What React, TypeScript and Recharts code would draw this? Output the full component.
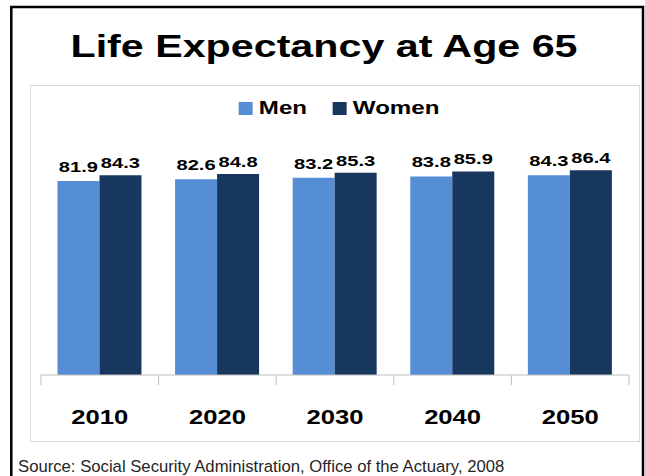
import { Bar, BarChart, LabelList, Legend, XAxis, YAxis } from 'recharts'

const years = ['2010', '2020', '2030', '2040', '2050']
const men = [81.9, 82.6, 83.2, 83.8, 84.3]
const women = [84.3, 84.8, 85.3, 85.9, 86.4]

const MEN_COLOR = '#558ed5'
const WOMEN_COLOR = '#17375e'
const FONT = '"Liberation Sans", Arial, Helvetica, sans-serif'
const TICK_SIZE = 10
const TICK_MARGIN = 21

const data = years.map((year, i) => ({ year, men: men[i], women: women[i] }))

// the source picture is stretched sideways, so text gets a horizontal scale
function YearTick(props: any) {
  const { x, y, payload, index } = props
  const half = payload.offset ?? 0
  const top = y - TICK_MARGIN - TICK_SIZE
  const bottom = y - TICK_MARGIN
  return (
    <g>
      <line x1={x - half} x2={x - half} y1={top} y2={bottom} stroke="#bfbfbf" />
      {index === years.length - 1 && (
        <line x1={x + half} x2={x + half} y1={top} y2={bottom} stroke="#bfbfbf" />
      )}
      <text
        transform={`translate(${x} ${y + 18}) scale(1.22 1)`}
        textAnchor="middle"
        fontFamily={FONT}
        fontWeight="bold"
        fontSize={21}
        fill="#000"
      >
        {payload.value}
      </text>
    </g>
  )
}

function valueLabel(gap: number) {
  return (props: any) => {
    const { x, y, width, value } = props
    return (
      <text
        transform={`translate(${x + width / 2} ${y - gap}) scale(1.3 1)`}
        textAnchor="middle"
        fontFamily={FONT}
        fontWeight="bold"
        fontSize={15.5}
        fill="#000"
      >
        {value}
      </text>
    )
  }
}

function LegendBox(props: any) {
  const items = props.payload ?? []
  return (
    <div
      style={{
        display: 'flex',
        justifyContent: 'center',
        alignItems: 'center',
        transform: 'scaleX(1.27)',
        fontFamily: FONT,
        fontWeight: 'bold',
        fontSize: 19,
        lineHeight: '22px',
      }}
    >
      {items.map((item: any, i: number) => (
        <div
          key={item.value}
          style={{ display: 'flex', alignItems: 'center', marginLeft: i === 0 ? 0 : 20 }}
        >
          <span
            style={{ width: 11, height: 13, background: item.color, marginRight: 5, display: 'inline-block' }}
          />
          <span>{item.value}</span>
        </div>
      ))}
    </div>
  )
}

export default function App() {
  return (
    <div style={{ position: 'relative', width: 645, height: 476, overflow: 'hidden', background: '#fff' }}>
      <style>{'body { margin: 0; }'}</style>
      <div
        style={{
          position: 'absolute',
          left: 30,
          top: 85,
          width: 610,
          height: 357,
          border: '1px solid #d9d9d9',
          boxSizing: 'border-box',
        }}
      />
      <div style={{ position: 'absolute', left: 0, top: 0 }}>
        <BarChart
          width={645}
          height={476}
          data={data}
          margin={{ top: 138, right: 16, bottom: 51, left: 41 }}
          barCategoryGap="14%"
          barGap={0}
        >
          <XAxis
            dataKey="year"
            height={50}
            axisLine={{ stroke: '#bfbfbf' }}
            tickLine={false}
            tickSize={TICK_SIZE}
            tickMargin={TICK_MARGIN}
            tick={<YearTick />}
            interval={0}
          />
          <YAxis hide domain={[0, 100]} />
          <Legend
            verticalAlign="middle"
            align="center"
            wrapperStyle={{ top: 97, left: 45, width: 588 }}
            content={<LegendBox />}
          />
          <Bar dataKey="men" name="Men" fill={MEN_COLOR} isAnimationActive={false}>
            <LabelList dataKey="men" content={valueLabel(9)} />
          </Bar>
          <Bar dataKey="women" name="Women" fill={WOMEN_COLOR} isAnimationActive={false}>
            <LabelList dataKey="women" content={valueLabel(7)} />
          </Bar>
        </BarChart>
      </div>
      <svg
        width={645}
        height={476}
        style={{ position: 'absolute', left: 0, top: 0, pointerEvents: 'none' }}
      >
        <path d="M11.3 480 V7 H643 V480" fill="none" stroke="#000" strokeWidth={2.5} />
        <text
          transform="translate(324 57) scale(1.33 1)"
          textAnchor="middle"
          fontFamily={FONT}
          fontWeight="bold"
          fontSize={31}
          fill="#000"
        >
          Life Expectancy at Age 65
        </text>
        <text x={18} y={472} fontFamily={FONT} fontSize={16.7} fill="#262626">
          Source: Social Security Administration, Office of the Actuary, 2008
        </text>
      </svg>
    </div>
  )
}
